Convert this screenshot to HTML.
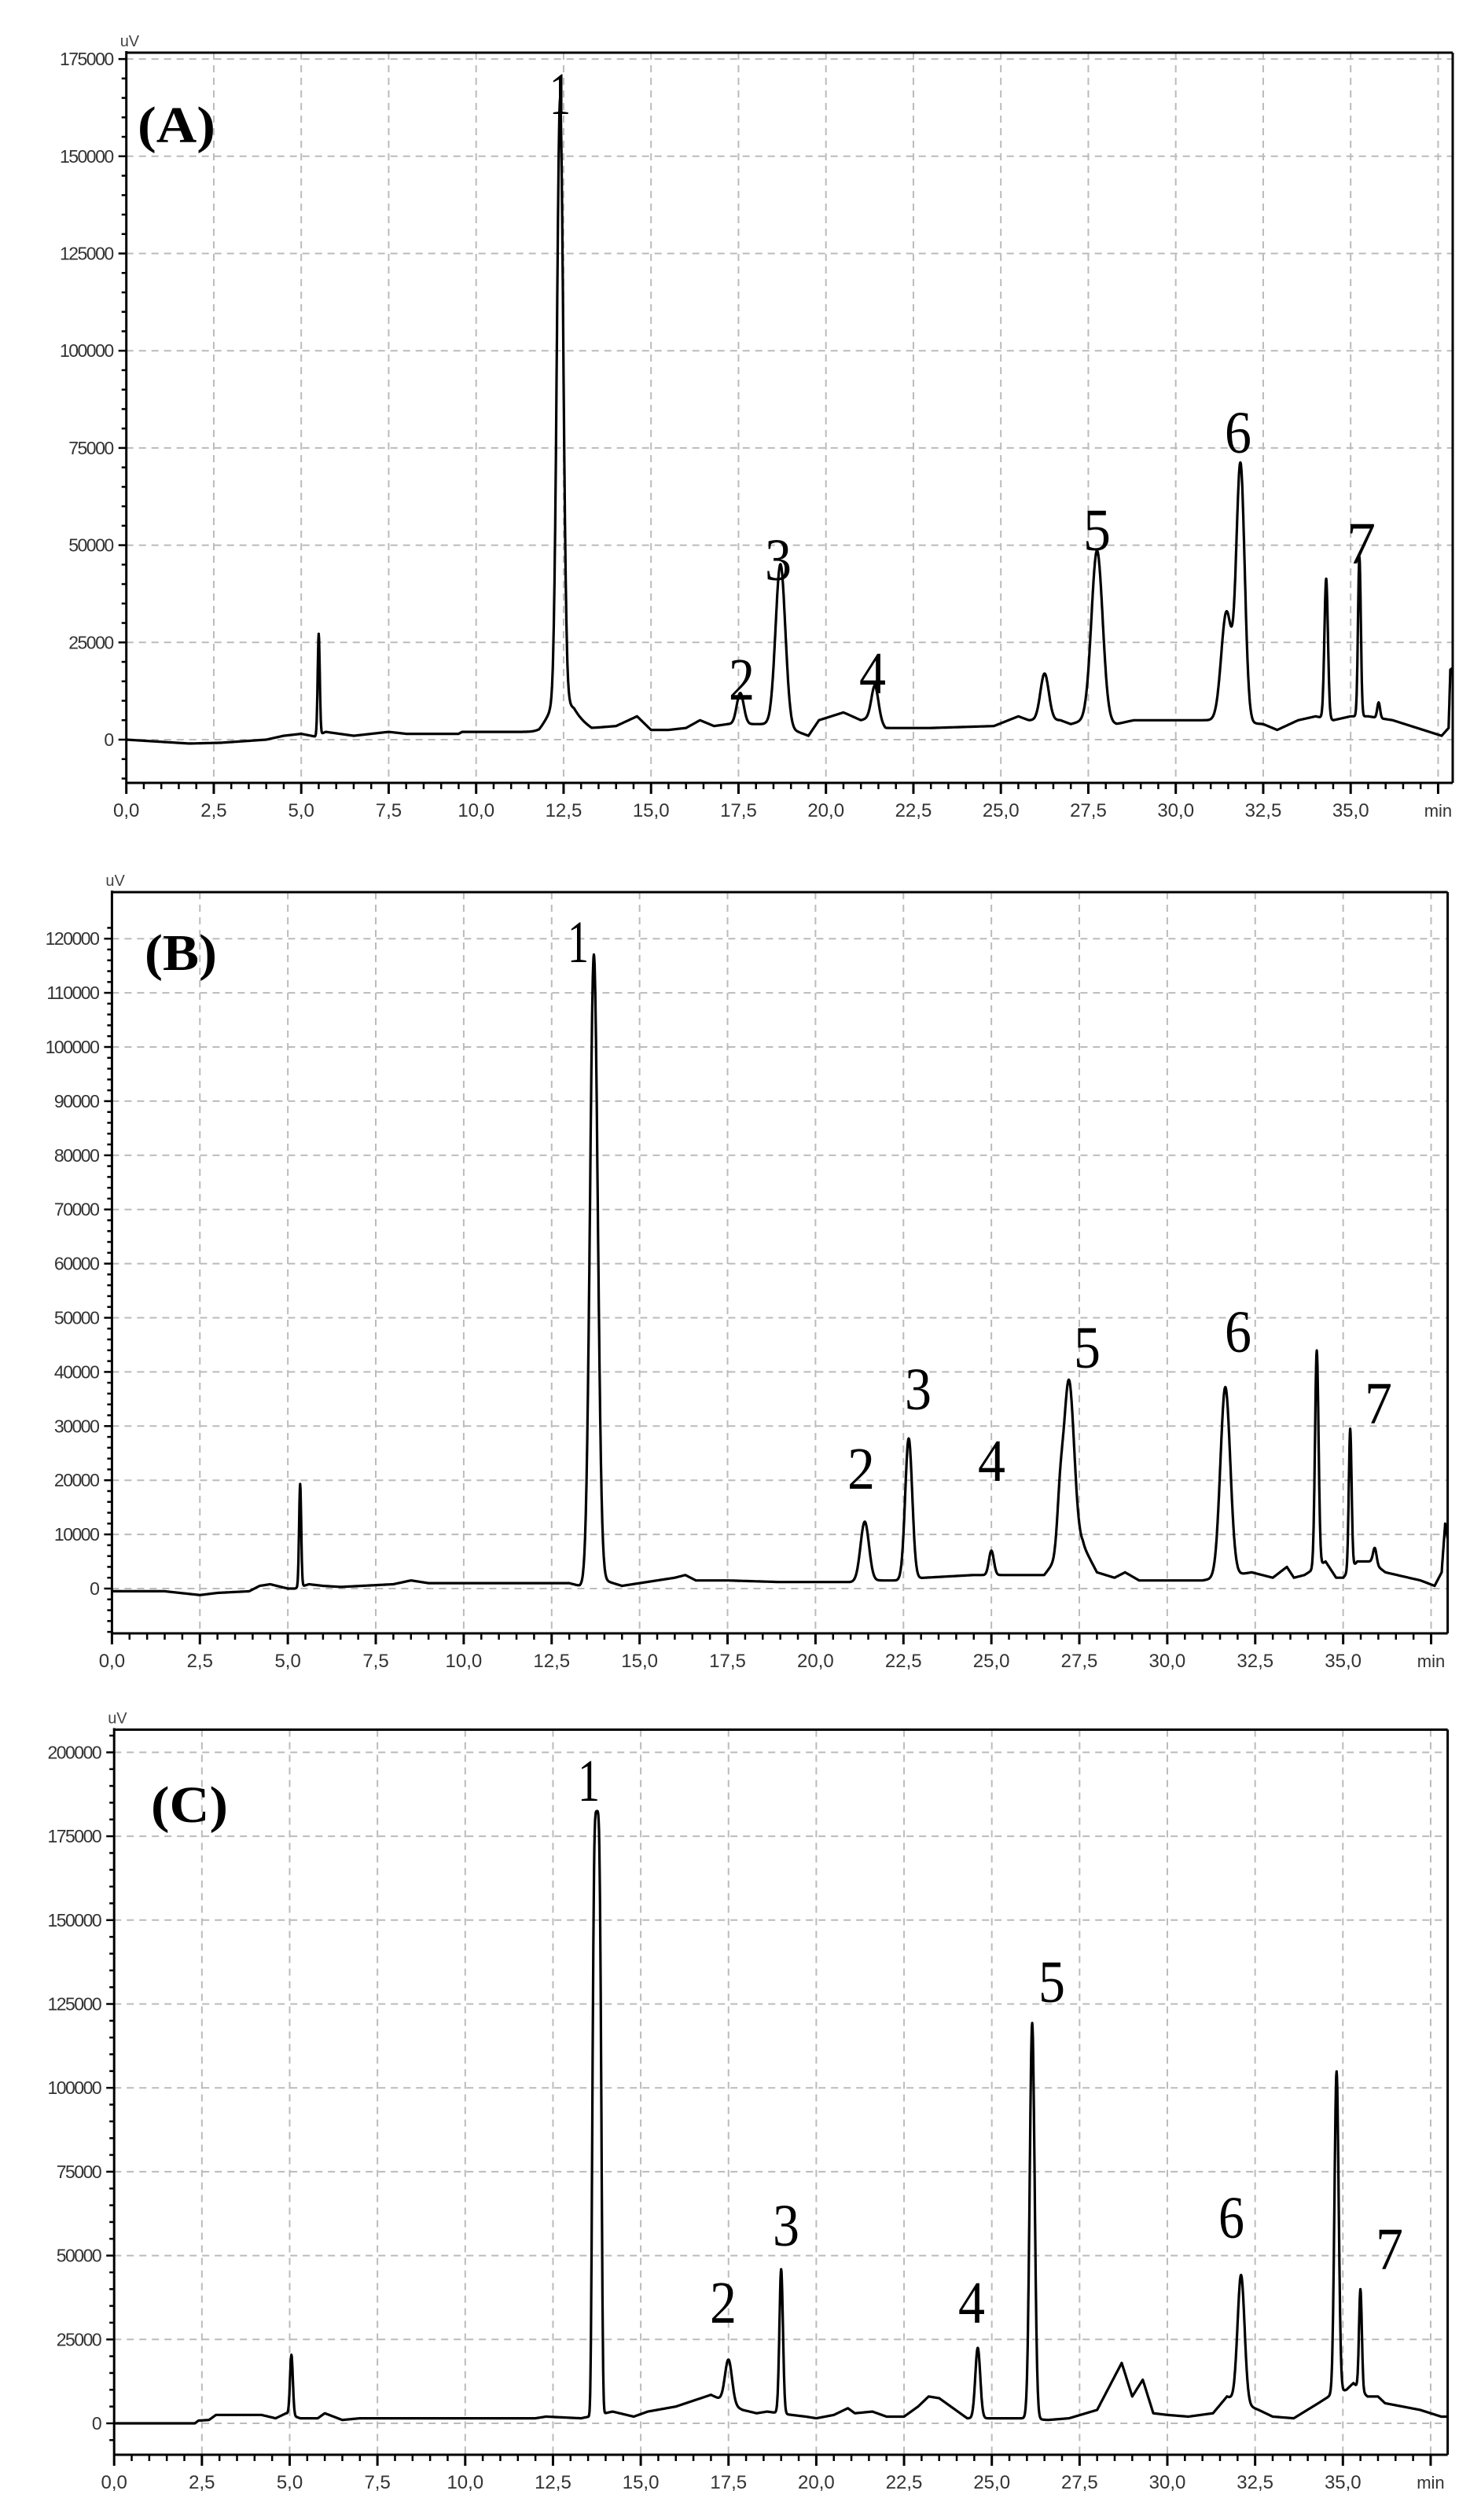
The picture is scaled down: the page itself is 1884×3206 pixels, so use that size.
<!DOCTYPE html>
<html><head><meta charset="utf-8">
<style>
html,body{margin:0;padding:0;background:#fff;}
svg{display:block;}
</style></head>
<body>
<svg id="s" xmlns="http://www.w3.org/2000/svg" width="1884" height="3206" viewBox="0 0 1884 3206"></svg>
<script>
var NS="http://www.w3.org/2000/svg";
var S=document.getElementById('s');
function el(t,a,txt){var e=document.createElementNS(NS,t);for(var k in a)e.setAttribute(k,a[k]);if(txt!==undefined)e.textContent=txt;S.appendChild(e);return e;}
var panels=[
{x0:160.7,ppm:44.5,y0:941,ppu:123.7/25000,top:67,right:1848,bottom:996,ymax:175000,ystep:25000,minor:5000,ymin:-13000,
 label:"(A)",lab:[175,181,99],
 base:[[0,0],[1.8,-1000],[2.7,-800],[4,0],[4.5,1000],[5,1500],[5.4,800],[5.7,2000],[6.5,1000],[7.5,2000],[8,1500],[9.5,1500],[9.6,2000],[11.8,2000],[12.1,4000],[12.8,6000],[13.3,3000],[14,3500],[14.6,6000],[15,2500],[15.5,2500],[16,3000],[16.4,5000],[16.8,3500],[17.2,4000],[17.9,4000],[18.3,4000],[19.2,2000],[19.5,1000],[19.8,5000],[20.5,7000],[21,5000],[21.4,6000],[21.7,3000],[23,3000],[24.8,3500],[25.5,6000],[25.8,5000],[26.7,5000],[27,4000],[27.4,5000],[28.3,4000],[28.8,5000],[30.5,5000],[31.1,5000],[32.5,4000],[32.9,2500],[33.5,5000],[34,6000],[34.5,5000],[35,6000],[35.5,6000],[36.2,5000],[37.6,1000],[37.8,3000],[37.85,18000],[38.0,19000],[38.2,14000]],
 peaks:[[5.5,26000,0.03],[12.4,155000,0.09],[12.4,5000,0.3],[17.55,8000,0.1],[18.7,42000,0.14],[21.4,8000,0.1],[26.25,12000,0.12],[27.75,44000,0.16],[31.85,66000,0.12],[31.45,28000,0.15],[34.3,36000,0.05],[35.25,41000,0.04],[35.8,4000,0.04]],
 nums:[["1",699,145,27],["2",927,890,33],["3",973,738,34],["4",1093,882,34],["5",1378,700,35],["6",1558,576,34],["7",1713,717,37]]},
{x0:142.4,ppm:44.75,y0:2021,ppu:68.9/10000,top:1135,right:1841.6,bottom:2078,ymax:120000,ystep:10000,minor:2000,ymin:-8300,
 label:"(B)",lab:[184,1234,92],
 base:[[0,-500],[1.5,-500],[2.5,-1200],[3,-800],[3.9,-500],[4.2,500],[4.5,800],[5,0],[5.2,0],[5.6,800],[6,500],[6.5,300],[8,800],[8.5,1500],[9,1000],[13,1000],[13.3,500],[14,1500],[14.5,500],[15,1000],[15.5,1500],[16,2000],[16.3,2500],[16.6,1500],[17.5,1500],[19,1200],[21,1200],[21.8,1500],[22.3,1500],[23.1,2000],[24.5,2500],[25.3,2500],[26.5,2500],[26.8,5000],[27.6,8000],[28,3000],[28.5,2000],[28.8,3000],[29.2,1500],[31,1500],[32.4,3000],[33,2000],[33.4,4000],[33.6,2000],[33.9,2500],[34.5,5000],[34.8,2000],[35.0,2000],[35.4,5000],[35.8,5000],[36.2,3000],[37.2,1500],[37.6,500],[37.8,3000],[37.9,12000],[38.0,8000]],
 peaks:[[5.35,19000,0.03],[13.7,116000,0.11],[21.4,11000,0.12],[22.65,26000,0.1],[25.0,4500,0.07],[27.2,32000,0.15],[26.95,8000,0.08],[31.65,35000,0.14],[34.25,40000,0.05],[35.2,26000,0.04],[35.9,3000,0.05]],
 nums:[["1",722,1224,27],["2",1078,1894,35],["3",1151,1793,34],["4",1244,1884,35],["5",1366,1740,34],["6",1558,1720,34],["7",1736,1811,35]]},
{x0:145.2,ppm:44.66,y0:3083,ppu:106.7/25000,top:2200.5,right:1841.6,bottom:3123,ymax:200000,ystep:25000,minor:5000,ymin:-9400,
 label:"(C)",lab:[192,2318,98],
 base:[[0,0],[2.3,0],[2.4,800],[2.7,1000],[2.9,2500],[4.2,2500],[4.6,1500],[4.9,3000],[5.3,1500],[5.8,1500],[6.0,3000],[6.5,1000],[7.0,1500],[12,1500],[12.3,2000],[13.3,1500],[14.2,3500],[14.8,2000],[15.2,3500],[16,5000],[17,8500],[17.9,4000],[18.3,3000],[18.6,3500],[19.3,2500],[19.7,2000],[20.0,1500],[20.5,2500],[20.9,4500],[21.1,3000],[21.6,3500],[22,2000],[22.5,2000],[22.9,5000],[23.2,8000],[23.5,7500],[24.3,1500],[24.9,1500],[25.9,1500],[26.6,1000],[27.2,1500],[28,4000],[28.4,12000],[28.7,18000],[29.0,8000],[29.3,13000],[29.6,3000],[30,2500],[30.6,2000],[31.3,3000],[31.7,8000],[32.6,4000],[33.0,2000],[33.6,1500],[34.3,6000],[34.6,8000],[35.1,10000],[35.3,12000],[35.7,8000],[36.0,8000],[36.2,6000],[37.2,4000],[37.8,2000],[38.1,2000]],
 peaks:[[13.75,180000,0.1],[5.05,18000,0.04],[17.5,13000,0.1],[19.0,43000,0.05],[24.6,21000,0.07],[26.15,118000,0.07],[32.1,38000,0.1],[34.82,96000,0.06],[35.5,30000,0.04]],
 flat:[13.75,180000,0.1],
 nums:[["1",735,2291,28],["2",903,2955,34],["3",983,2857,34],["4",1219,2955,34],["5",1321,2547,34],["6",1550,2847,33],["7",1750,2887,35]]}
];
function interp(b,t){if(t<=b[0][0])return b[0][1];for(var i=1;i<b.length;i++){if(t<=b[i][0]){var a=b[i-1],c=b[i];return a[1]+(c[1]-a[1])*(t-a[0])/(c[0]-a[0]);}}return b[b.length-1][1];}
panels.forEach(function(p,pi){
  var X=function(t){return p.x0+t*p.ppm;}, Y=function(v){return p.y0-v*p.ppu;};
  var tmax=(p.right-p.x0)/p.ppm;
  for(var t=2.5;t<tmax;t+=2.5){el('line',{x1:X(t),y1:p.top,x2:X(t),y2:p.bottom,stroke:'#bbb','stroke-width':2,'stroke-dasharray':'9 7'});}
  for(var v=0;v<=p.ymax;v+=p.ystep){el('line',{x1:p.x0,y1:Y(v),x2:p.right,y2:Y(v),stroke:'#bbb','stroke-width':2,'stroke-dasharray':'9 7'});}
  var d="";
  for(var t=0;t<=tmax+0.001;t+=0.01){
    var v=interp(p.base,t);
    p.peaks.forEach(function(k,ki){var z=(t-k[0])/k[2];
      if(pi==2&&ki==0){ // flat-top peak
        var e=Math.exp(-0.5*Math.pow(Math.abs(z),4)/2); if(Math.abs(z)<6)v+=k[1]*e; return;}
      if(Math.abs(z)<6)v+=k[1]*Math.exp(-0.5*z*z);});
    var yy=Y(v); if(yy>p.bottom)yy=p.bottom; if(yy<p.top)yy=p.top;
    d+=(d?"L":"M")+X(t).toFixed(1)+" "+yy.toFixed(1);
  }
  el('path',{d:d,fill:'none',stroke:'#000','stroke-width':3.2,'stroke-linejoin':'round'});
  el('line',{x1:p.x0,y1:p.top,x2:p.right,y2:p.top,stroke:'#000','stroke-width':3});
  el('line',{x1:p.right,y1:p.top,x2:p.right,y2:p.bottom,stroke:'#000','stroke-width':3});
  el('line',{x1:p.x0,y1:p.top-2,x2:p.x0,y2:p.bottom,stroke:'#000','stroke-width':3});
  el('line',{x1:p.x0,y1:p.bottom,x2:p.right,y2:p.bottom,stroke:'#000','stroke-width':3});
  for(var i=0;i*0.5<tmax;i++){var t=i*0.5,maj=(i%5==0);el('line',{x1:X(t),y1:p.bottom,x2:X(t),y2:p.bottom+(maj?14:8),stroke:'#000','stroke-width':maj?3:2.5});}
  for(var t=0;t<tmax-1;t+=2.5){if(t>37)continue;var lbl=t.toFixed(1).replace('.',',');el('text',{x:X(t),y:p.bottom+43,'text-anchor':'middle','font-family':'Liberation Sans, sans-serif','font-size':24,fill:'#333'},lbl);}
  el('text',{x:X(37.5),y:p.bottom+43,'text-anchor':'middle','font-family':'Liberation Sans, sans-serif','font-size':22,fill:'#333'},'min');
  for(var v=Math.ceil(p.ymin/p.minor)*p.minor;v<=p.ymax+p.minor*1.5;v+=p.minor){var yy=Y(v);if(yy<p.top-4||yy>p.bottom)continue;var maj=(v%p.ystep==0);el('line',{x1:p.x0-(maj?10:6),y1:yy,x2:p.x0,y2:yy,stroke:'#000','stroke-width':2.5});}
  for(var v=0;v<=p.ymax;v+=p.ystep){el('text',{x:p.x0-17,y:Y(v)+8,'text-anchor':'end','font-family':'Liberation Sans, sans-serif','font-size':23,'letter-spacing':-1.5,fill:'#333'},String(v));}
  el('text',{x:p.x0-8,y:p.top-8,'font-family':'Liberation Sans, sans-serif','font-size':20,fill:'#444'},'uV');
  el('text',{x:p.lab[0],y:p.lab[1],'font-family':'Liberation Serif, serif','font-weight':'bold','font-size':66,textLength:p.lab[2],lengthAdjust:'spacingAndGlyphs'},p.label);
  p.nums.forEach(function(n){el('text',{x:n[1],y:n[2],'font-family':'Liberation Serif, serif','font-size':76,textLength:n[3],lengthAdjust:'spacingAndGlyphs'},n[0]);});
});
</script>
</body></html>
